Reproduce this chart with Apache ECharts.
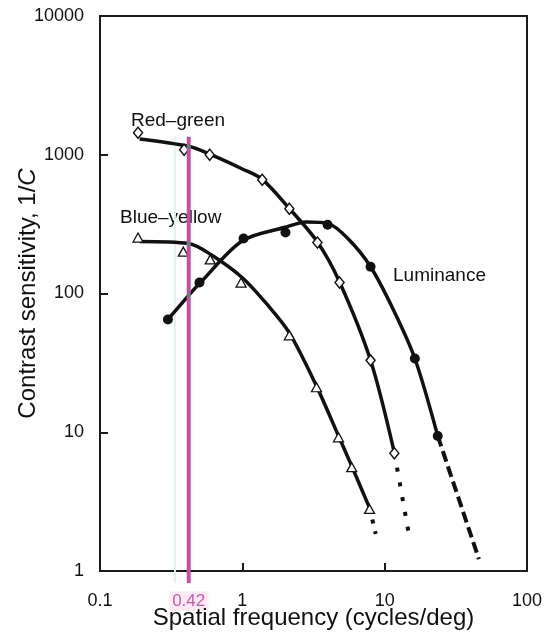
<!DOCTYPE html>
<html>
<head>
<meta charset="utf-8">
<script src="https://cdn.jsdelivr.net/npm/echarts@6/dist/echarts.min.js"></script>
<style>
  html, body { margin: 0; padding: 0; background: #ffffff; }
  #chart { width: 544px; height: 637px; }
</style>
</head>
<body>
<div id="chart"></div>
<script>
// Contrast sensitivity (1/C) versus spatial frequency for the three channels.

// Red–green (open diamonds): measured points
const rgFreq = [0.185, 0.39, 0.59, 1.38, 2.14, 3.37, 4.82, 7.96, 11.7];
const rgSens = [1440, 1087, 1000, 660, 408, 233, 120, 33, 7.06];
// Red–green fitted curve and its extrapolated (dotted) tail
const rgFitFreq = [0.19, 0.42, 0.59, 1.0, 1.38, 2.14, 3.37, 4.82, 7.96, 11.7];
const rgFitSens = [1300, 1150, 1010, 790, 665, 410, 235, 121, 33, 7.1];
const rgTailFreq = [11.7, 15];
const rgTailSens = [7.1, 1.7];

// Blue–yellow (open triangles): measured points
const byFreq = [0.185, 0.385, 0.595, 0.98, 2.14, 3.32, 4.74, 5.87, 7.83];
const bySens = [253, 200, 176, 120, 50, 21.1, 9.2, 5.6, 2.8];
// Blue–yellow fitted curve and dotted tail
const byFitFreq = [0.19, 0.42, 0.6, 1.0, 1.5, 2.14, 3.32, 4.74, 5.87, 7.83];
const byFitSens = [237, 229, 191, 130, 83, 52, 21.5, 9.4, 5.7, 2.85];
const byTailFreq = [7.83, 8.65];
const byTailSens = [2.85, 1.85];

// Luminance (filled circles): measured points
const lumFreq = [0.30, 0.50, 1.02, 2.01, 3.97, 7.96, 16.3, 23.6];
const lumSens = [65, 120, 249, 275, 313, 156, 34, 9.4];
// Luminance fitted curve and dashed tail
const lumFitFreq = [0.30, 0.42, 0.50, 1.0, 2.0, 2.8, 4.0, 5.6, 7.96, 11.4, 16.3, 23.6];
const lumFitSens = [65, 97, 118, 240, 300, 328, 320, 245, 156, 78, 34, 9.4];
const lumTailFreq = [23.6, 45.9];
const lumTailSens = [9.4, 1.22];

// Reference frequency marker and where the curves cross it
const refFreq = 0.42;
const refSpan = [1350, 0.82];
const refCross = [1150, 229, 97];

// Axis ticks
const xTicks = [0.1, 1, 10, 100];
const yTicks = [1, 10, 100, 1000, 10000];

const FONT = '"Liberation Sans", Arial, Helvetica, sans-serif';
const INK = '#111111';
const MAGENTA = '#c64ea6';

const pairs = (xs, ys) => xs.map((x, i) => [x, ys[i]]);

function curve(xs, ys) {
  return {
    type: 'line', data: pairs(xs, ys), symbol: 'none', smooth: 0.3,
    silent: true, z: 2,
    lineStyle: { color: INK, width: 3.5 }
  };
}
function tail(xs, ys, dash, width) {
  return {
    type: 'line', data: pairs(xs, ys), symbol: 'none', silent: true, z: 2,
    lineStyle: { color: INK, width: width, type: dash, cap: 'butt' }
  };
}
function points(xs, ys, symbol, size, fill, border) {
  return {
    type: 'scatter', data: pairs(xs, ys), symbol: symbol, symbolSize: size,
    silent: true, z: 3,
    itemStyle: { color: fill, borderColor: INK, borderWidth: border, opacity: 1 }
  };
}

const chart = echarts.init(document.getElementById('chart'), null, { renderer: 'canvas' });

chart.setOption({
  backgroundColor: '#ffffff',
  animation: false,
  grid: {
    left: 100, right: 17, top: 16, bottom: 66,
    containLabel: false, outerBoundsMode: 'none',
    show: true, borderColor: '#1a1a1a', borderWidth: 2, backgroundColor: 'transparent'
  },
  xAxis: {
    type: 'log', logBase: 10, min: xTicks[0], max: xTicks[xTicks.length - 1],
    axisLine: { show: true, lineStyle: { color: '#1a1a1a', width: 2 } },
    axisTick: { show: true, inside: true, length: 8, lineStyle: { color: '#1a1a1a', width: 2 } },
    minorTick: { show: false },
    splitLine: { show: false },
    axisLabel: {
      margin: 21, color: INK, fontFamily: FONT, fontSize: 18,
      formatter: v => String(v)
    },
    name: 'Spatial frequency (cycles/deg)',
    nameLocation: 'middle', nameGap: 35, nameMoveOverlap: false,
    nameTextStyle: { color: INK, fontFamily: FONT, fontSize: 24 }
  },
  yAxis: {
    type: 'log', logBase: 10, min: yTicks[0], max: yTicks[yTicks.length - 1],
    axisLine: { show: true, lineStyle: { color: '#1a1a1a', width: 2 } },
    axisTick: { show: true, inside: true, length: 8, lineStyle: { color: '#1a1a1a', width: 2 } },
    minorTick: { show: false },
    splitLine: { show: false },
    axisLabel: {
      margin: 16, color: INK, fontFamily: FONT, fontSize: 18,
      formatter: v => String(v)
    },
    name: 'Contrast sensitivity, 1/{i|C}',
    nameLocation: 'middle', nameGap: 60, nameMoveOverlap: false,
    nameTextStyle: {
      color: INK, fontFamily: FONT, fontSize: 24,
      rich: { i: { fontStyle: 'italic', fontFamily: FONT, fontSize: 24, color: INK } }
    }
  },
  series: [
    curve(rgFitFreq, rgFitSens),
    tail(rgTailFreq, rgTailSens, [4, 11], 4),
    curve(byFitFreq, byFitSens),
    tail(byTailFreq, byTailSens, [4, 8], 4),
    curve(lumFitFreq, lumFitSens),
    tail(lumTailFreq, lumTailSens, [11, 5], 4),
    points(rgFreq, rgSens, 'diamond', [9, 11], '#ffffff', 1.5),
    points(byFreq, bySens, 'triangle', [10, 9], '#ffffff', 1.3),
    points(lumFreq, lumSens, 'circle', 10, INK, 0),
    // faint ghost of the reference line
    {
      type: 'line', data: [[refFreq * 0.8, refSpan[0]], [refFreq * 0.8, refSpan[1]]],
      symbol: 'none', clip: false, silent: true, z: 1,
      lineStyle: { color: '#e2f0f2', width: 2 }
    },
    // reference frequency line
    {
      type: 'line', data: [[refFreq, refSpan[0]], [refFreq, refSpan[1]]],
      symbol: 'none', clip: false, silent: true, z: 4,
      lineStyle: { color: MAGENTA, width: 4 }
    },
    {
      type: 'scatter', data: refCross.map(v => [refFreq, v]),
      symbol: 'circle', symbolSize: 4, silent: true, z: 5,
      itemStyle: { color: '#2fa05c' }
    }
  ]
});

// Series names and the reference value label
const refX = chart.convertToPixel({ xAxisIndex: 0 }, refFreq);
chart.setOption({
  graphic: [
    { type: 'text', left: 131, top: 111, silent: true,
      style: { text: 'Red\u2013green', font: '19px ' + FONT, fill: INK } },
    { type: 'text', left: 120, top: 208, silent: true,
      style: { text: 'Blue\u2013yellow', font: '19px ' + FONT, fill: INK } },
    { type: 'text', left: 393, top: 266, silent: true,
      style: { text: 'Luminance', font: '19px ' + FONT, fill: INK } },
    { type: 'text', x: refX, y: 601, silent: true,
      style: {
        text: String(refFreq), font: '17px ' + FONT, fill: '#c85aa9',
        align: 'center', verticalAlign: 'middle',
        backgroundColor: '#fbeaf3', padding: [1, 3]
      } }
  ]
});
</script>
</body>
</html>
